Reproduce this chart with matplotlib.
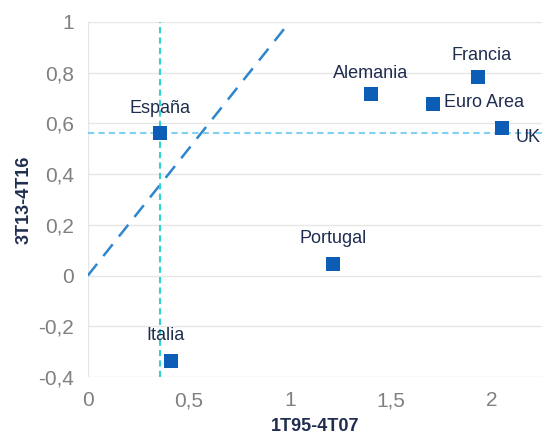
import matplotlib.pyplot as plt

# values
countries = ['España', 'Italia', 'Portugal', 'Alemania', 'Euro Area', 'Francia', 'UK']
x_vals = [0.356, 0.41, 1.213, 1.40, 1.708, 1.93, 2.05]
y_vals = [0.561, -0.336, 0.047, 0.715, 0.676, 0.783, 0.581]
spain_x, spain_y = 0.356, 0.561
x_ticks = [0, 0.5, 1, 1.5, 2]
x_tick_labels = ['0', '0,5', '1', '1,5', '2']
y_ticks = [-0.4, -0.2, 0, 0.2, 0.4, 0.6, 0.8, 1]
y_tick_labels = ['-0,4', '-0,2', '0', '0,2', '0,4', '0,6', '0,8', '1']

# label placement: (dx, dy) in points, ha, va
label_pos = {
    'España': (0, 12, 'center', 'bottom'),
    'Italia': (-4, 12, 'center', 'bottom'),
    'Portugal': (0, 12, 'center', 'bottom'),
    'Alemania': (0, 9, 'center', 'bottom'),
    'Euro Area': (8, 1, 'left', 'center'),
    'Francia': (3, 9, 'center', 'bottom'),
    'UK': (10, -7, 'left', 'center'),
}

plt.rcParams['font.family'] = ['Liberation Sans', 'DejaVu Sans']
fig = plt.figure(figsize=(5.45, 4.37), dpi=100)
ax = fig.add_axes([0.161, 0.137, 0.834, 0.813])

ax.set_xlim(0, 2.25)
ax.set_ylim(-0.4, 1)

for yt in y_ticks:
    ax.axhline(yt, color='#E6E6E6', lw=1, zorder=0)
ax.axvline(0, color='#E6E6E6', lw=1, zorder=0)

ax.plot([0, 1.05], [0, 1.05], color='#2E86CF', lw=1.8, dashes=(6, 4), zorder=2)
ax.axvline(spain_x, color='#2ED3D3', lw=1.5, dashes=(3, 2), zorder=2)
ax.axhline(spain_y, color='#7FD0F2', lw=1.5, dashes=(3, 2), zorder=2)

ax.scatter(x_vals, y_vals, marker='s', s=105, linewidths=0, color='#0C5DB5', zorder=3)

for name, xv, yv in zip(countries, x_vals, y_vals):
    dx, dy, ha, va = label_pos[name]
    ax.annotate(name, (xv, yv), xytext=(dx, dy), textcoords='offset points',
                ha=ha, va=va, fontsize=13, color='#1F2D4F')

ax.set_xticks(x_ticks)
ax.set_xticklabels(x_tick_labels)
ax.set_yticks(y_ticks)
ax.set_yticklabels(y_tick_labels)
ax.tick_params(axis='both', length=0, labelsize=15, labelcolor='#808080', pad=10)
for sp in ax.spines.values():
    sp.set_visible(False)

ax.set_xlabel('1T95-4T07', fontsize=13, fontweight='bold', color='#1F2D4F', labelpad=6)
ax.set_ylabel('3T13-4T16', fontsize=13, fontweight='bold', color='#1F2D4F', labelpad=4)

fig.savefig('out.png', dpi=100)
